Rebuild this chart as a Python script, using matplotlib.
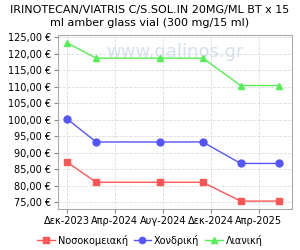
import datetime as dt

import matplotlib
matplotlib.use("Agg")
import matplotlib.pyplot as plt
from matplotlib.ticker import FuncFormatter, MultipleLocator

DATES = ["2023-12-01", "2024-02-14", "2024-07-24", "2024-11-10", "2025-02-14", "2025-05-22"]
HOSPITAL = [87.3, 81.1, 81.1, 81.1, 75.4, 75.4]
WHOLESALE = [100.4, 93.3, 93.3, 93.3, 86.8, 86.8]
RETAIL = [123.4, 118.7, 118.7, 118.7, 110.4, 110.4]

TICK_DATES = ["2023-12-01", "2024-04-01", "2024-08-01", "2024-12-01", "2025-04-01"]
TICK_LABELS = ["Δεκ-2023", "Απρ-2024", "Αυγ-2024", "Δεκ-2024", "Απρ-2025"]

SERIES = [
    ("Νοσοκομειακή", HOSPITAL, "#ff5555", "s"),
    ("Χονδρική", WHOLESALE, "#5555ff", "o"),
    ("Λιανική", RETAIL, "#55ee55", "^"),
]

TITLE = "IRINOTECAN/VIATRIS C/S.SOL.IN 20MG/ML BT x 15\nml amber glass vial (300 mg/15 ml)"

x = [dt.datetime.fromisoformat(d) for d in DATES]
ticks = [dt.datetime.fromisoformat(d) for d in TICK_DATES]

fig = plt.figure(figsize=(3, 2.5), dpi=100)
ax = fig.add_axes([0.193, 0.164, 0.78, 0.696])

# watermark
ax.text(0.5, 0.9, "www.galinos.gr", transform=ax.transAxes, ha="center", va="center",
        fontsize=13, color="#d5e0ee", zorder=0)

for name, vals, color, marker in SERIES:
    ax.plot(x, vals, color=color, lw=1, marker=marker, ms=5, label=name, zorder=3)

ax.set_ylim(73.0, 125.7)
ax.set_xlim(dt.datetime(2023, 11, 9), dt.datetime(2025, 6, 24))
ax.yaxis.set_major_locator(MultipleLocator(5))
ax.yaxis.set_major_formatter(FuncFormatter(lambda v, p: f"{v:.2f} €".replace(".", ",")))
ax.set_xticks(ticks)
ax.set_xticklabels(TICK_LABELS)
ax.tick_params(labelsize=7, length=3, color="#888888", pad=2)
ax.grid(True, color="#dddddd", ls="--", lw=0.6)
for s in ax.spines.values():
    s.set_color("#aaaaaa")
    s.set_linewidth(0.8)

fig.text(0.5, 0.934, TITLE, ha="center", va="center", fontsize=8, linespacing=1.25)

fig.legend(loc="center", bbox_to_anchor=(0.5, 0.04), ncol=3, frameon=False,
           fontsize=7, handlelength=1.8, handletextpad=0.3, columnspacing=0.6,
           markerscale=0.9)

fig.savefig("out.png", dpi=100)
